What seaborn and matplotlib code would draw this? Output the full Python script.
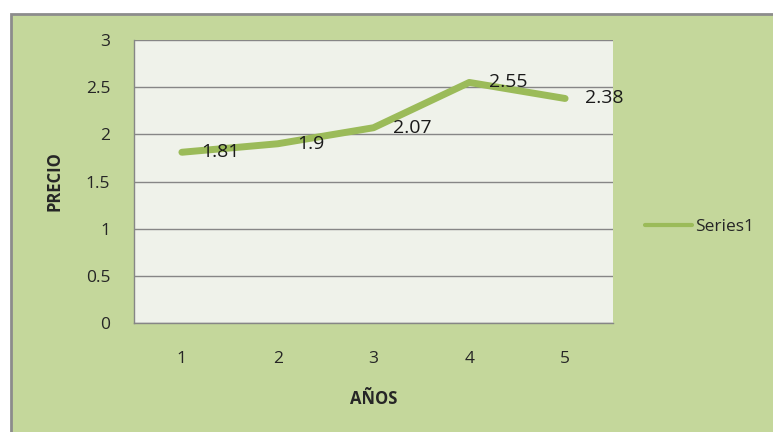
import matplotlib
matplotlib.use('Agg')
import matplotlib.pyplot as plt
from matplotlib.patches import Rectangle
import seaborn as sns
import pandas as pd

# data
anios = [1, 2, 3, 4, 5]
precio = [1.81, 1.9, 2.07, 2.55, 2.38]
series_name = 'Series1'

df = pd.DataFrame({'AÑOS': anios, 'PRECIO': precio, 'serie': series_name})

sns.set_style('white')
plt.rcParams['font.family'] = ['Open Sans', 'DejaVu Sans']

W, H = 773, 432
fig = plt.figure(figsize=(W / 100, H / 100), dpi=100, facecolor='white')

# outer green chart area with gray border
fig.patches.append(Rectangle((11 / W, -0.05), 1.0, 1 - 14 / H + 0.05,
                             transform=fig.transFigure, facecolor='#C4D79B',
                             edgecolor='#8C8C8C', linewidth=2, zorder=-10))

ax = fig.add_axes([134 / W, 1 - 323 / H, (613 - 134) / W, (323 - 40) / H])
ax.set_facecolor('#EFF2EA')

line_color = '#9BBB59'
sns.lineplot(data=df, x='AÑOS', y='PRECIO', hue='serie', palette=[line_color],
             linewidth=5, ax=ax, legend=False, solid_capstyle='round')

# data labels to the right of each point
for x, y in zip(anios, precio):
    ax.annotate(f'{y:g}', (x, y), xytext=(14, 0), textcoords='offset points',
                ha='left', va='center', fontsize=14, color='#1a1a1a')

ax.set_xlim(0.5, 5.5)
ax.set_ylim(0, 3)
ax.set_yticks([0, 0.5, 1, 1.5, 2, 2.5, 3])
ax.set_yticklabels(['0', '0.5', '1', '1.5', '2', '2.5', '3'])
ax.set_xticks(anios)
ax.set_xticks([0.5, 1.5, 2.5, 3.5, 4.5, 5.5], minor=True)
ax.tick_params(axis='x', which='major', length=0, pad=20, labelsize=12.5)
ax.tick_params(axis='x', which='minor', length=5, width=1, color='#868686', direction='out')
ax.tick_params(axis='y', which='major', length=7, width=1, color='#868686',
               direction='out', pad=10, labelsize=12.5)
ax.yaxis.grid(True, color='#868686', linewidth=1)
ax.xaxis.grid(False)
ax.set_axisbelow(True)

for side in ['top', 'right']:
    ax.spines[side].set_visible(False)
for side in ['left', 'bottom']:
    ax.spines[side].set_color('#868686')
    ax.spines[side].set_linewidth(1)

ax.set_xlabel('AÑOS', fontsize=12, fontweight='bold', labelpad=17)
ax.set_ylabel('PRECIO', fontsize=12, fontweight='bold', labelpad=16)

# legend
handle = plt.Line2D([], [], color=line_color, linewidth=3)
fig.legend([handle], [series_name], loc='center left',
           bbox_to_anchor=(645 / W, 1 - 227 / H), bbox_transform=fig.transFigure,
           frameon=False, borderpad=0, borderaxespad=0, handlelength=2.7,
           handletextpad=0.2, fontsize=12.5)

fig.savefig('out.png', dpi=100, facecolor='white')
